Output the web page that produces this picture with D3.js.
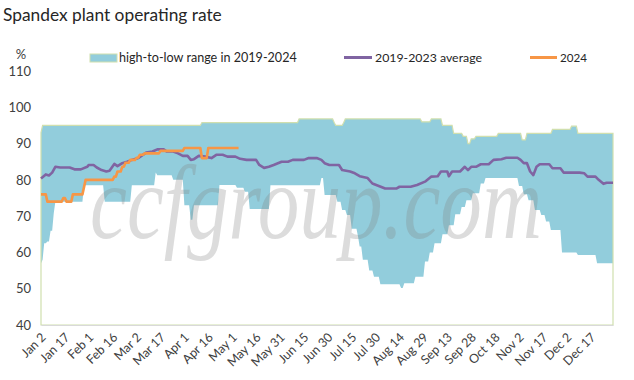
<!DOCTYPE html>
<html><head><meta charset="utf-8">
<script src="https://cdn.jsdelivr.net/npm/d3@7"></script>
<style>html,body{margin:0;padding:0;background:#fff}svg{display:block}</style>
</head><body>
<svg id="chart" width="634" height="380"></svg>
<script>
// ---------------- data ----------------
const title = "Spandex plant operating rate";
const unitLabel = "%";
const yTicks = [40, 50, 60, 70, 80, 90, 100, 110];
const seriesNames = ["high-to-low range in 2019-2024", "2019-2023 average", "2024"];
const watermark = "ccfgroup.com";
// categories: daily dates Jan 2 - Dec 31 (2024 calendar), Oct 1-5 absent
const skipped = ["Oct 1", "Oct 2", "Oct 3", "Oct 4", "Oct 5"];
const categories = d3.timeDay.range(new Date(2024, 0, 2), new Date(2025, 0, 1))
  .map(d3.timeFormat("%b %-d")).filter(s => !skipped.includes(s));
const tickLabels = categories.filter((d, i) => i % 15 === 0);

const rangeHigh = [["Jan 2",93],["Jan 3",95],["Apr 11",95],["Apr 12",95.8],["Jun 11",95.8],["Jun 12",96.8],
  ["Jul 3",96.8],["Jul 4",95.8],["Jul 5",95],["Jul 9",95],["Jul 10",95.8],["Jul 11",96.8],["Aug 27",96.8],
  ["Aug 28",96],["Sep 2",96],["Sep 3",96.8],["Sep 9",96.8],["Sep 10",95],["Sep 16",95],["Sep 17",92.8],
  ["Sep 22",92.8],["Sep 23",92],["Sep 25",92],["Sep 26",90],["Sep 27",90],["Sep 28",91.3],["Sep 30",91.3],
  ["Oct 6",92],["Oct 19",92],["Oct 20",92.8],["Nov 3",92.8],["Nov 4",91],["Nov 6",91],["Nov 7",92.8],
  ["Nov 22",92.8],["Nov 23",93.9],["Dec 4",93.9],["Dec 5",94.8],["Dec 8",94.8],["Dec 9",92.8],["Dec 31",92.8]];

const rangeLow = [["Jan 2",57],["Jan 3",58],["Jan 4",62.5],["Jan 5",62.5],["Jan 6",63],["Jan 7",63],["Jan 8",66],
  ["Jan 9",66],["Jan 10",70.8],["Jan 11",74],["Jan 28",74],["Jan 29",78.5],["Feb 10",78.5],["Feb 11",74],
  ["Feb 27",74],["Feb 28",78.5],["Mar 13",78.5],["Mar 14",82],["Mar 15",81.3],["Mar 24",81.3],["Mar 25",80],
  ["Mar 31",80],["Apr 1",73],["Apr 4",73],["Apr 5",69],["Apr 6",69],["Apr 7",73],["Apr 22",73],["Apr 23",78.6],
  ["May 3",78.6],["May 4",77.8],["May 8",77.8],["May 9",76.7],["May 11",76.7],["May 12",72],["May 24",72],
  ["May 25",78.5],["Jun 25",78.5],["Jun 26",80.5],["Jun 27",80.5],["Jun 28",75.8],["Jul 5",75.8],["Jul 6",74],
  ["Jul 8",74],["Jul 9",71.7],["Jul 11",71.7],["Jul 12",70.3],["Jul 14",70.3],["Jul 15",66.5],["Jul 18",66.5],
  ["Jul 19",64.3],["Jul 20",61.6],["Jul 21",61.6],["Jul 22",58],["Jul 25",58],["Jul 26",55],["Jul 28",55],
  ["Jul 29",53.3],["Aug 1",53.3],["Aug 2",51.2],["Aug 14",51.2],["Aug 15",50.2],["Aug 16",50.2],["Aug 17",51.5],
  ["Aug 23",51.5],["Aug 24",53.3],["Aug 29",53.3],["Aug 30",57.5],["Sep 1",57.5],["Sep 2",60],["Sep 4",60],
  ["Sep 5",62.5],["Sep 9",62.5],["Sep 10",65],["Sep 13",65],["Sep 14",67.5],["Sep 17",67.5],["Sep 18",70.5],
  ["Sep 21",70.5],["Sep 22",72.5],["Sep 24",72.5],["Sep 25",74.4],["Sep 28",74.4],["Sep 29",76.3],["Oct 8",76.3],
  ["Oct 9",79],["Oct 11",79],["Oct 12",80.5],["Nov 1",80.5],["Nov 2",78.3],["Nov 4",78.3],["Nov 5",76],
  ["Nov 7",76],["Nov 8",74.4],["Nov 11",74.4],["Nov 12",71.7],["Nov 15",71.7],["Nov 16",70.3],["Nov 18",70.3],
  ["Nov 19",68.5],["Nov 21",68.5],["Nov 22",66.2],["Nov 28",66.2],["Nov 29",60],["Dec 8",60],["Dec 9",59.3],
  ["Dec 20",59.3],["Dec 21",57],["Dec 31",57]];

const avg2019_2023 = [["Jan 2",80.4],["Jan 5",81.5],["Jan 7",81.2],["Jan 9",82],["Jan 11",83.6],["Jan 14",83.4],
  ["Jan 20",83.4],["Jan 23",82.9],["Jan 27",82.9],["Jan 31",83.6],["Feb 1",84.1],["Feb 4",84.1],["Feb 6",83.4],
  ["Feb 9",82.7],["Feb 12",82.3],["Feb 14",82.5],["Feb 17",84.4],["Feb 19",83.8],["Feb 22",84.6],["Feb 25",85],
  ["Feb 28",85.5],["Mar 3",86],["Mar 5",86.6],["Mar 8",87.5],["Mar 12",87.8],["Mar 15",88.4],["Mar 19",88.4],
  ["Mar 21",87.8],["Mar 25",87.8],["Mar 28",87.3],["Mar 31",86.6],["Apr 3",86.6],["Apr 5",85.5],["Apr 7",85.7],
  ["Apr 10",86.6],["Apr 14",86.4],["Apr 18",86],["Apr 21",86.9],["Apr 25",86.9],["Apr 28",86.4],["May 3",86.4],
  ["May 6",85.8],["May 10",85.5],["May 16",85.5],["May 18",84.1],["May 21",83.3],["May 24",83.6],["May 27",84.1],
  ["Jun 1",85],["Jun 5",85],["Jun 8",85.5],["Jun 15",85.5],["Jun 18",86],["Jun 23",86],["Jun 26",85.5],
  ["Jun 28",84.6],["Jul 1",84.1],["Jul 7",84.1],["Jul 9",82.7],["Jul 14",82.3],["Jul 17",81.8],["Jul 20",81],
  ["Jul 25",80.5],["Jul 28",79],["Aug 1",78.3],["Aug 5",77.6],["Aug 12",77.6],["Aug 14",78.1],["Aug 21",78.1],
  ["Aug 25",78.6],["Aug 30",79.5],["Sep 3",80.9],["Sep 7",81],["Sep 9",82.3],["Sep 13",82.3],["Sep 14",81],
  ["Sep 16",82.3],["Sep 21",82.3],["Sep 24",83.6],["Sep 26",82.7],["Sep 28",83.6],["Oct 6",83.6],["Oct 9",84.3],
  ["Oct 14",84.3],["Oct 17",85.5],["Oct 22",85.7],["Oct 25",86.1],["Nov 1",86.1],["Nov 3",85.5],["Nov 5",84.6],
  ["Nov 7",84.6],["Nov 9",82.3],["Nov 11",81.3],["Nov 13",83.6],["Nov 15",84.3],["Nov 21",84.3],["Nov 23",83.2],
  ["Nov 28",83.2],["Nov 30",82],["Dec 10",82],["Dec 13",81.8],["Dec 15",80.9],["Dec 20",80.9],["Dec 22",80],
  ["Dec 25",78.9],["Dec 27",79.2],["Dec 31",79.2]];

const y2024 = [["Jan 2",76],["Jan 5",76],["Jan 6",74],["Jan 15",74],["Jan 16",75],["Jan 17",75],["Jan 18",74],
  ["Jan 21",74],["Jan 22",76],["Jan 28",76],["Jan 29",78],["Jan 30",80],["Feb 16",80],["Feb 17",80.9],
  ["Feb 18",80.9],["Feb 19",82.3],["Feb 21",82.3],["Feb 22",83.6],["Feb 23",83.6],["Feb 24",84.7],["Feb 26",84.7],
  ["Feb 27",85.5],["Mar 1",85.5],["Mar 2",86.1],["Mar 3",86.1],["Mar 4",86.9],["Mar 6",86.9],["Mar 7",87.3],
  ["Mar 16",87.3],["Mar 17",88],["Mar 31",88],["Apr 1",88.8],["Apr 11",88.8],["Apr 12",86],["Apr 15",86],
  ["Apr 16",88.8],["May 5",88.8]];

// ---------------- drawing ----------------
const svg = d3.select("#chart");
const FONT = "Lato, 'Open Sans', sans-serif";
const plotL = 41, plotR = 613, plotT = 71, plotB = 325;

const x = d3.scalePoint().domain(categories).range([plotL, plotR]);
const y = d3.scaleLinear().domain([40, 110]).range([plotB, plotT]);

const blue = "#92CDDC", border = "#D0DFAE", purple = "#8064A2", orange = "#F79646";

const areaTo40 = d3.area().x(d => x(d[0])).y0(y(40)).y1(d => y(d[1]));
svg.append("path").attr("d", areaTo40(rangeHigh)).attr("fill", blue);
svg.append("path").attr("d", areaTo40(rangeLow)).attr("fill", "#fff");
svg.append("path").attr("d", areaTo40(rangeHigh)).attr("fill", "none")
  .attr("stroke", border).attr("stroke-width", 1.2);

// x axis
const xAxis = svg.append("g").attr("transform", `translate(0,${plotB})`)
  .call(d3.axisBottom(x).tickValues(tickLabels).tickSize(0).tickSizeOuter(0));
xAxis.select(".domain").attr("stroke", "#D9D9D9").attr("stroke-width", 1.2);
xAxis.selectAll("text").attr("x", 0).attr("y", 0).attr("dy", "0.35em")
  .attr("text-anchor", "end").attr("transform", "translate(2,10) rotate(-45)")
  .attr("font-family", FONT).attr("font-size", 12.5).attr("fill", "#404040");

// y axis
const yAxis = svg.append("g").attr("transform", `translate(${plotL},0)`)
  .call(d3.axisLeft(y).tickValues(yTicks).tickSize(0).tickPadding(10));
yAxis.select(".domain").remove();
yAxis.selectAll("text").attr("font-family", FONT).attr("font-size", 13).attr("fill", "#404040");
svg.append("text").attr("x", 21).attr("y", 54).attr("dy", "0.35em").attr("text-anchor", "middle")
  .attr("font-family", FONT).attr("font-size", 13).attr("fill", "#404040").text(unitLabel);

// lines
const line = d3.line().x(d => x(d[0])).y(d => y(d[1]));
svg.append("path").attr("d", line(avg2019_2023)).attr("fill", "none").attr("stroke", purple)
  .attr("stroke-width", 2.6).attr("stroke-linejoin", "round");
svg.append("path").attr("d", line(y2024)).attr("fill", "none").attr("stroke", orange)
  .attr("stroke-width", 2.6).attr("stroke-linejoin", "round");

// watermark (horizontally condensed italic serif)
const wm = svg.append("text").attr("x", 0).attr("y", 0).attr("font-family", "'Liberation Serif', serif")
  .attr("font-style", "italic").attr("font-size", 105)
  .attr("fill", "#808080").attr("fill-opacity", 0.28).text(watermark);
const wmLen = wm.node().getComputedTextLength() || 574;
wm.attr("transform", `translate(90,238) scale(${452 / wmLen},1)`);

// title
function fit(sel, w) {
  const cur = sel.node().getComputedTextLength();
  const fs = parseFloat(sel.attr("font-size"));
  if (cur > 0) sel.attr("font-size", fs * w / cur);
}
const t = svg.append("text").attr("x", 3).attr("y", 21).attr("font-family", FONT)
  .attr("font-size", 18).attr("fill", "#262626").text(title);
fit(t, 219);

// legend
const lg = svg.append("g");
lg.append("rect").attr("x", 90).attr("y", 54).attr("width", 27).attr("height", 8)
  .attr("fill", blue).attr("stroke", border).attr("stroke-width", 1);
const l1 = lg.append("text").attr("x", 119).attr("y", 58).attr("dy", "0.35em").attr("font-family", FONT)
  .attr("font-size", 13).attr("fill", "#262626").text(seriesNames[0]);
fit(l1, 178);
lg.append("line").attr("x1", 344).attr("x2", 372).attr("y1", 57.5).attr("y2", 57.5)
  .attr("stroke", purple).attr("stroke-width", 3);
const l2 = lg.append("text").attr("x", 375).attr("y", 58).attr("dy", "0.35em").attr("font-family", FONT)
  .attr("font-size", 13).attr("fill", "#262626").text(seriesNames[1]);
fit(l2, 107);
lg.append("line").attr("x1", 530).attr("x2", 557).attr("y1", 57.5).attr("y2", 57.5)
  .attr("stroke", orange).attr("stroke-width", 3);
const l3 = lg.append("text").attr("x", 560).attr("y", 58).attr("dy", "0.35em").attr("font-family", FONT)
  .attr("font-size", 13).attr("fill", "#262626").text(seriesNames[2]);
fit(l3, 27);
</script>
</body></html>
